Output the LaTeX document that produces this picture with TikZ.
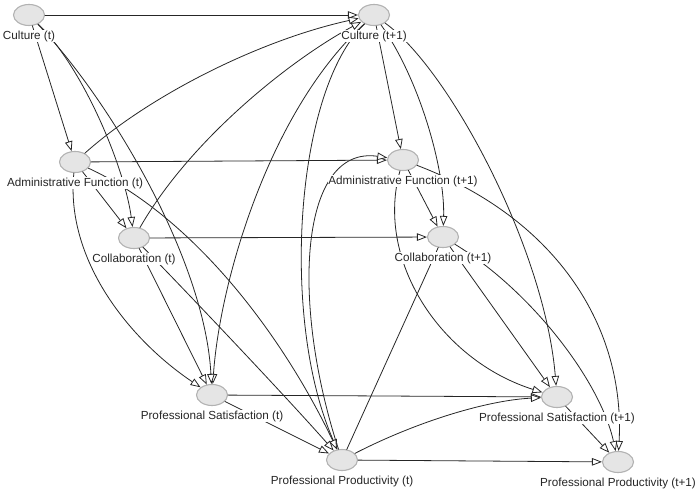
\documentclass[tikz,border=0pt]{standalone}
\usepackage{fontspec}
\setmainfont{Liberation Sans}
\usetikzlibrary{arrows.meta,shapes.geometric,positioning}

\begin{document}
\begin{tikzpicture}[line cap=round,line join=round,x=1pt,y=-1pt,
    >={Triangle[length=10pt,width=7.5pt,fill=white]},
    var/.style={ellipse,draw=black!30,line width=1.1pt,fill=black!10,
      minimum width=31pt,minimum height=21pt,inner sep=0pt},
    lab/.style={fill=white,inner sep=0.6pt,text=black!85,
      font=\fontsize{11.7}{13}\selectfont},
    edge/.style={->,draw=black!85,line width=0.8pt}]
  \useasboundingbox (0,0) rectangle (700,494);

  % Variables at time t and t+1
  \node[var] (C0) at (29,15) {};
  \node[var] (C1) at (374,15) {};
  \node[var] (A0) at (75,162) {};
  \node[var] (A1) at (403,160) {};
  \node[var] (Co0) at (134,238) {};
  \node[var] (Co1) at (443,237) {};
  \node[var] (S0) at (212,395) {};
  \node[var] (S1) at (557,397) {};
  \node[var] (P0) at (342,460) {};
  \node[var] (P1) at (618,462) {};

  % Paths from one wave to the next
  \draw[edge] (C0) -- (C1);
  \draw[edge] (A0) -- (A1);
  \draw[edge] (Co0) -- (Co1);
  \draw[edge] (S0) -- (S1);
  \draw[edge] (P0) -- (P1);
  \draw[edge] (A0) .. controls (150,95) and (260,40) .. (C1);
  \draw[edge] (Co0) .. controls (190,140) and (290,60) .. (C1);
  \draw[edge] (C1) .. controls (270,110) and (220,280) .. (S0);
  \draw[edge] (C1) .. controls (295,90) and (280,320) .. (P0);
  \draw[edge] (P0) .. controls (290,300) and (300,145) .. (A1);
  \draw[edge] (P0) .. controls (420,420) and (490,400) .. (S1);
  \draw[draw=black!85,line width=0.8pt] (Co1) -- (P0);

  % Paths within wave t
  \draw[edge] (C0) -- (A0);
  \draw[edge] (C0) .. controls (85,70) and (125,170) .. (Co0);
  \draw[edge] (C0) .. controls (110,100) and (205,260) .. (S0);
  \draw[edge] (A0) -- (Co0);
  \draw[edge] (A0) .. controls (65,260) and (130,340) .. (S0);
  \draw[edge] (A0) .. controls (190,215) and (280,330) .. (P0);
  \draw[edge] (Co0) .. controls (180,285) and (280,390) .. (P0);
  \draw[edge] (Co0) -- (S0);
  \draw[edge] (S0) -- (P0);

  % Paths within wave t+1
  \draw[edge] (C1) -- (A1);
  \draw[edge] (C1) .. controls (420,80) and (445,170) .. (Co1);
  \draw[edge] (C1) .. controls (450,70) and (545,250) .. (S1);
  \draw[edge] (A1) -- (Co1);
  \draw[edge] (A1) .. controls (375,260) and (440,360) .. (S1);
  \draw[edge] (A1) .. controls (560,220) and (625,330) .. (P1);
  \draw[edge] (Co1) -- (S1);
  \draw[edge] (Co1) .. controls (530,290) and (600,380) .. (P1);
  \draw[edge] (S1) -- (P1);

  % Labels under the variables
  \node[lab,below=4pt of C0] (lC0) {Culture (t)};
  \node[lab,below=4pt of C1] (lC1) {Culture (t+1)};
  \node[lab,below=4pt of A0] (lA0) {Administrative Function (t)};
  \node[lab,below=4pt of A1] (lA1) {Administrative Function (t+1)};
  \node[lab,below=4pt of Co0] (lCo0) {Collaboration (t)};
  \node[lab,below=4pt of Co1] (lCo1) {Collaboration (t+1)};
  \node[lab,below=4pt of S0] (lS0) {Professional Satisfaction (t)};
  \node[lab,below=4pt of S1] (lS1) {Professional Satisfaction (t+1)};
  \node[lab,below=4pt of P0] (lP0) {Professional Productivity (t)};
  \node[lab,below=4pt of P1] (lP1) {Professional Productivity (t+1)};
\end{tikzpicture}
\end{document}
